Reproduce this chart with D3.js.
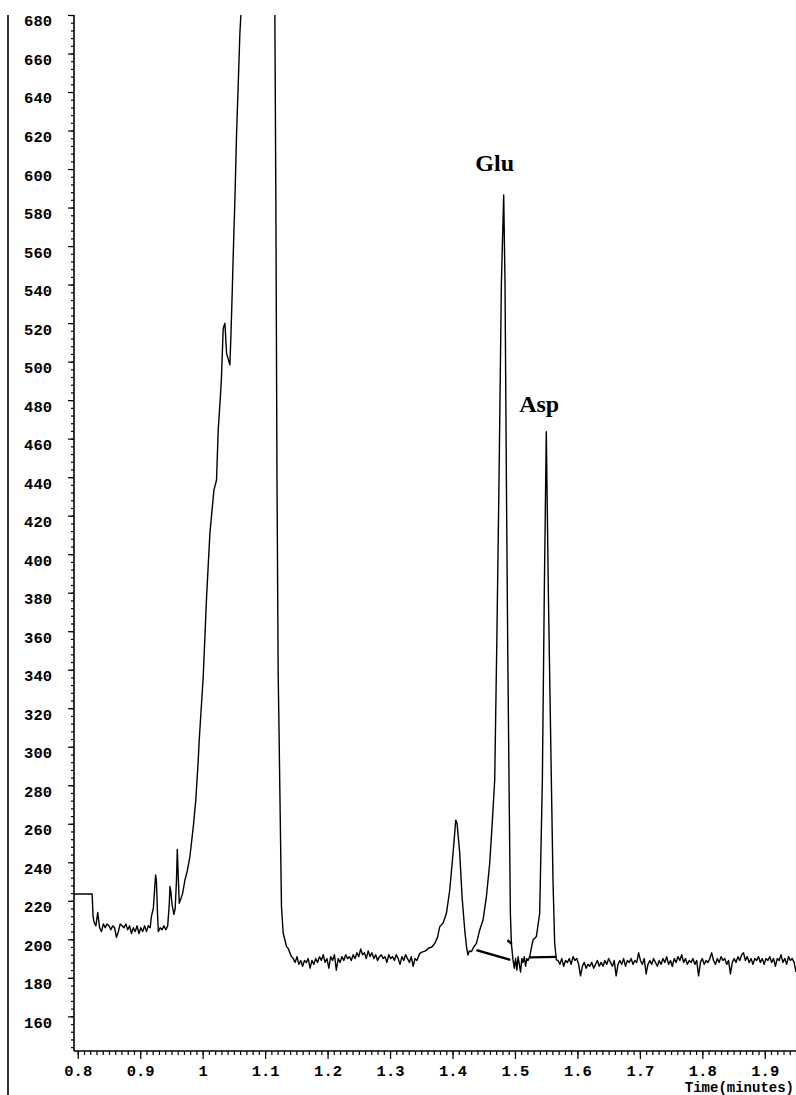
<!DOCTYPE html>
<html>
<head>
<meta charset="utf-8">
<script src="https://cdn.jsdelivr.net/npm/d3@7"></script>
<style>
  body { margin: 0; background: #fff; }
  .tick text { font-family: "Liberation Mono", "DejaVu Sans Mono", monospace; font-weight: bold; font-size: 15.5px; fill: #000; }
</style>
</head>
<body>
<div id="chart-container"></div>
<script>
// flat start, then the first noisy baseline (sampled every 0.003 min)
const leadIn = [[0.794, 223.5], [0.823, 223.5], [0.8245, 212]];
const earlyStart = 0.826, earlyStep = 0.003;
const earlyValues = [209, 207, 214, 206, 204, 208, 206, 208, 207, 205, 207, 206, 201, 204, 208, 207,
  206, 208, 205, 207, 203, 206, 204, 207, 203, 206, 204, 207, 204, 207, 206];

// small spikes and the big solvent front (apex off scale)
const solventFront = [[0.918, 212], [0.921, 216], [0.9235, 228], [0.9247, 233.4], [0.926, 230], [0.9275, 215],
  [0.929, 204], [0.932, 206], [0.935, 205], [0.938, 207], [0.941, 205], [0.944, 207], [0.9465, 218],
  [0.9476, 227.4], [0.949, 225], [0.951, 218], [0.954, 213], [0.956, 216], [0.958, 230], [0.9594, 246.7],
  [0.961, 232], [0.9625, 218.7], [0.965, 221], [0.968, 224], [0.9716, 230.8], [0.975, 235], [0.9796, 243],
  [0.985, 258.5], [0.989, 272.3], [0.9929, 293], [0.9945, 303.5], [1.0009, 336.4], [1.0063, 378],
  [1.0116, 410.8], [1.018, 433.3], [1.0222, 438.5], [1.0249, 464.5], [1.0287, 483.5], [1.030, 491],
  [1.0329, 517.3], [1.0356, 519.9], [1.0383, 504.3], [1.0436, 498.3], [1.0452, 513], [1.0473, 535.5],
  [1.049, 556.2], [1.0516, 583.9], [1.0543, 618.6], [1.057, 644.5], [1.0596, 670.5], [1.0612, 680],
  [1.09, 1050], [1.1156, 680], [1.1172, 584], [1.119, 440], [1.1209, 338], [1.1225, 303.5],
  [1.1235, 279.3], [1.1247, 251.6], [1.1262, 217], [1.1289, 203.3], [1.1343, 196.2], [1.1369, 195.3],
  [1.1423, 191]];

const midStart = 1.145, midStep = 0.003;
const midValues = [190, 188, 191, 187, 189, 186, 189, 188, 190, 185, 189, 187, 190, 188, 191, 189,
  192, 188, 190, 185, 191, 189, 192, 184, 190, 188, 191, 189, 192, 190, 191, 189, 192, 190, 193, 191,
  195, 192, 193, 190, 194, 191, 193, 190, 192, 189, 191, 192, 190, 191, 188, 192, 190, 191, 189, 192,
  190, 187, 191, 189, 192, 190, 188, 191, 186, 190, 189];

// small peak, Glu and Asp
const peaks = [[1.3476, 192.7], [1.352, 193.5], [1.357, 194], [1.362, 195.5], [1.367, 196], [1.3716, 197.9],
  [1.376, 201], [1.3796, 206.6], [1.385, 208.5], [1.3903, 213.5], [1.3956, 225.6], [1.4009, 244.7],
  [1.4052, 261.9], [1.4073, 260.3], [1.4116, 244.7], [1.4153, 222.2], [1.4196, 204.8], [1.4225, 196],
  [1.4249, 191.8], [1.427, 194], [1.4303, 193.6], [1.434, 196], [1.4383, 197.9], [1.4436, 204.8],
  [1.4489, 210], [1.4543, 222.2], [1.4596, 239.5], [1.4639, 261.9], [1.4676, 282.7], [1.471, 355],
  [1.4745, 438.5], [1.4783, 540.7], [1.482, 586.5], [1.4841, 540.7], [1.4863, 438.5], [1.4885, 350],
  [1.4905, 282.7], [1.4927, 213.5], [1.4943, 197.9], [1.4969, 189.3], [1.499, 185], [1.501, 190],
  [1.503, 184], [1.505, 191], [1.507, 187], [1.509, 183], [1.511, 190], [1.513, 188], [1.515, 191],
  [1.517, 186], [1.519, 190], [1.521, 189], [1.5236, 191], [1.5289, 199.7], [1.5343, 201.4],
  [1.5396, 213.5], [1.5439, 282.7], [1.547, 380], [1.5502, 463.6], [1.5535, 380], [1.5583, 282.7],
  [1.5609, 230.8], [1.5636, 197.9], [1.5663, 189.3]];

const tailStart = 1.569, tailStep = 0.003;
const tailValues = [189, 187, 190, 186, 189, 188, 190, 187, 191, 189, 190, 187, 181, 186, 188, 185,
  187, 186, 188, 185, 187, 189, 186, 188, 186, 189, 187, 190, 188, 186, 189, 181, 187, 189, 187, 190,
  186, 189, 188, 190, 187, 189, 188, 193, 189, 187, 190, 182, 187, 189, 187, 190, 188, 186, 189, 187,
  190, 188, 191, 187, 189, 186, 190, 188, 191, 189, 192, 188, 190, 187, 189, 188, 190, 187, 189, 181,
  188, 190, 187, 189, 188, 190, 193, 189, 187, 190, 188, 191, 189, 190, 187, 189, 182, 188, 190, 188,
  191, 189, 192, 193, 189, 191, 188, 190, 187, 190, 189, 191, 188, 190, 187, 190, 189, 191, 188, 190,
  186, 190, 189, 192, 188, 190, 187, 191, 189, 190, 188, 183];

// integration baselines drawn under Glu and Asp
const baselines = [
  [[1.4383, 194.4], [1.4927, 189.3]],
  [[1.5236, 190.6], [1.5663, 190.9]],
  [[1.4880, 199.5], [1.4950, 197.6]]
];

const peakLabels = [{name: "Glu", t: 1.4676, v: 599}, {name: "Asp", t: 1.5388, v: 474}];

const xMajor = [0.8, 0.9, 1.0, 1.1, 1.2, 1.3, 1.4, 1.5, 1.6, 1.7, 1.8, 1.9];
const xLabels = ["0.8", "0.9", "1", "1.1", "1.2", "1.3", "1.4", "1.5", "1.6", "1.7", "1.8", "1.9"];
const yMajor = d3.range(160, 681, 20);
const xTitle = "Time(minutes)";

function sampled(start, step, values) {
  return values.map(function(v, i) { return [start + i * step, v]; });
}

const trace = leadIn
  .concat(sampled(earlyStart, earlyStep, earlyValues))
  .concat(solventFront)
  .concat(sampled(midStart, midStep, midValues))
  .concat(peaks)
  .concat(sampled(tailStart, tailStep, tailValues));

const W = 796, H = 1095;
const plotLeft = 74, plotRight = 796, plotTop = 15, plotBottom = 1051;

const svg = d3.select("#chart-container")
  .append("svg")
    .attr("width", W)
    .attr("height", H);

const x = d3.scaleLinear().domain([0.794, 1.95]).range([plotLeft, plotRight]);
const y = d3.scaleLinear().domain([142, 680]).range([plotBottom, plotTop]);

// scanned page edge on the left
svg.append("line")
  .attr("x1", 8).attr("x2", 8)
  .attr("y1", plotTop).attr("y2", H)
  .attr("stroke", "#000").attr("stroke-width", 1.6);

svg.append("clipPath").attr("id", "plot-clip")
  .append("rect")
    .attr("x", plotLeft).attr("y", plotTop)
    .attr("width", plotRight - plotLeft).attr("height", plotBottom - plotTop);

// minor ticks
const xMinor = d3.range(80, 196).map(function(i) { return i / 100; });
const yMinor = d3.range(144, 681, 4);

svg.append("g")
  .attr("transform", "translate(0," + plotBottom + ")")
  .call(d3.axisBottom(x).tickValues(xMinor).tickSize(4).tickFormat(""))
  .call(function(g) { g.select(".domain").remove(); });

svg.append("g")
  .attr("transform", "translate(" + plotLeft + ",0)")
  .call(d3.axisLeft(y).tickValues(yMinor).tickSize(3).tickFormat(""))
  .call(function(g) { g.select(".domain").remove(); });

// major ticks with labels
svg.append("g")
  .attr("transform", "translate(0," + plotBottom + ")")
  .call(d3.axisBottom(x).tickValues(xMajor).tickSize(8).tickPadding(6)
    .tickFormat(function(d, i) { return xLabels[i]; }))
  .call(function(g) { g.select(".domain").remove(); });

svg.append("g")
  .attr("transform", "translate(" + plotLeft + ",0)")
  .call(d3.axisLeft(y).tickValues(yMajor).tickSize(6).tickPadding(16).tickFormat(d3.format("d")))
  .call(function(g) { g.select(".domain").remove(); })
  .call(function(g) { g.selectAll(".tick text").attr("y", 6); });

svg.selectAll(".tick line").attr("stroke", "#000").attr("stroke-width", 1.2);

// axis lines
svg.append("line")
  .attr("x1", plotLeft).attr("x2", plotRight)
  .attr("y1", plotBottom).attr("y2", plotBottom)
  .attr("stroke", "#000").attr("stroke-width", 1.6);
svg.append("line")
  .attr("x1", plotLeft).attr("x2", plotLeft)
  .attr("y1", plotTop).attr("y2", plotBottom)
  .attr("stroke", "#000").attr("stroke-width", 1.6);

svg.append("text")
  .attr("x", 794).attr("y", 1092)
  .attr("text-anchor", "end")
  .style("font-family", "'Liberation Mono', monospace")
  .style("font-weight", "bold")
  .style("font-size", "14px")
  .text(xTitle);

const line = d3.line()
  .x(function(d) { return x(d[0]); })
  .y(function(d) { return y(d[1]); });

const plot = svg.append("g").attr("clip-path", "url(#plot-clip)");

plot.append("path")
  .datum(trace)
  .attr("d", line)
  .attr("fill", "none")
  .attr("stroke", "#000")
  .attr("stroke-width", 1.4)
  .attr("stroke-linejoin", "round");

plot.selectAll(".baseline")
  .data(baselines)
  .enter()
  .append("path")
    .attr("class", "baseline")
    .attr("d", line)
    .attr("fill", "none")
    .attr("stroke", "#000")
    .attr("stroke-width", 2.4);

svg.selectAll(".peak-label")
  .data(peakLabels)
  .enter()
  .append("text")
    .attr("class", "peak-label")
    .attr("x", function(d) { return x(d.t); })
    .attr("y", function(d) { return y(d.v); })
    .attr("text-anchor", "middle")
    .style("font-family", "'Liberation Serif', 'Times New Roman', serif")
    .style("font-weight", "bold")
    .style("font-size", "24px")
    .text(function(d) { return d.name; });
</script>
</body>
</html>
